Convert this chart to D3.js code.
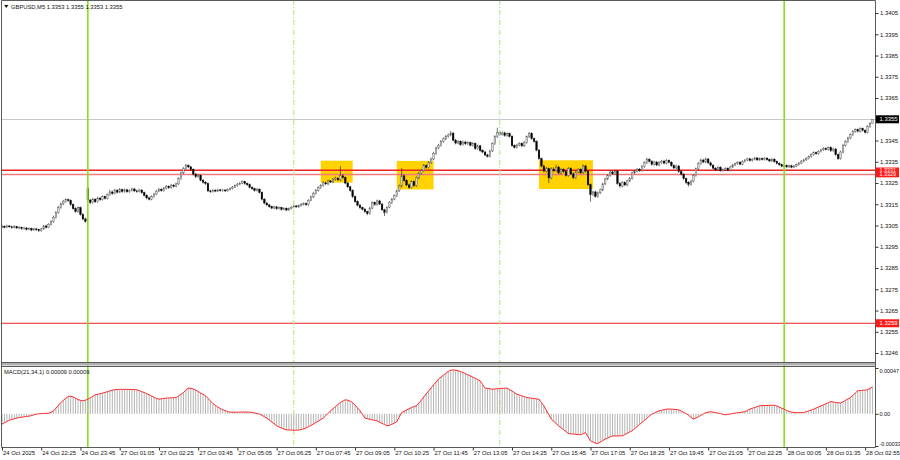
<!DOCTYPE html>
<html>
<head>
<meta charset="utf-8">
<script src="https://cdn.jsdelivr.net/npm/d3@7"></script>
<style>
body{margin:0;background:#fff;}
text{font-family:"Liberation Sans",Arial,sans-serif;}
</style>
</head>
<body>
<svg id="chart" width="900" height="460"></svg>
<script>
// GBPUSD M5 candles, values in pips above 1.3300
var base = 1.3300;
var opens = [4.4,4.6,4.2,4.8,4.4,4.0,4.5,3.9,4.1,3.6, 3.8,3.2,3.5,2.9,3.4,3.0,2.6,3.4,4.8,4.2,
5.6,6.8,8.9,11.0,13.5,15.2,16.4,17.2,16.8,14.9, 13.0,11.6,13.4,10.2,8.1,22.5,17.0,15.8,17.4,16.2,
17.9,17.2,18.6,17.8,19.5,20.8,20.1,21.6,20.7,21.9, 21.0,21.8,20.9,21.5,22.2,21.3,21.0,21.7,20.5,19.2,
18.0,17.4,18.6,19.8,21.2,22.0,21.4,22.6,23.4,22.8, 24.0,23.5,24.6,27.0,29.8,31.9,33.2,32.6,31.4,29.2,
28.0,28.6,26.3,25.4,24.8,21.3,21.0,21.6,21.2,21.8, 21.4,21.7,21.3,21.9,22.4,23.1,23.8,24.5,24.9,25.6,
24.8,24.2,23.0,22.3,21.5,22.1,20.6,17.4,15.6,14.7, 13.9,13.2,13.8,12.9,13.4,12.6,13.1,12.3,13.0,13.6,
14.2,13.8,14.4,14.9,15.3,14.8,16.9,18.5,20.2,21.6, 22.8,23.9,25.1,24.6,26.0,25.5,26.8,27.3,26.5,28.4,
27.6,25.0,23.2,21.5,18.6,16.3,14.6,13.4,12.7,11.5, 10.6,13.2,15.8,14.9,16.6,15.1,12.4,11.2,13.6,15.8,
17.4,19.0,21.3,23.6,28.4,26.2,24.1,22.9,25.6,23.8, 27.4,29.6,30.8,33.2,32.4,34.6,36.3,38.9,41.5,42.8,
44.6,45.8,46.9,47.6,48.5,45.2,43.8,44.6,43.1,44.3, 43.5,44.0,42.8,43.6,41.2,42.5,40.3,39.6,38.2,37.6,
40.1,43.5,46.8,48.7,47.9,48.6,47.4,48.2,47.0,42.6, 41.8,42.9,43.6,42.5,44.1,46.8,48.3,45.9,44.6,40.5,
36.5,33.0,30.6,31.8,27.4,31.6,30.8,32.5,29.7,31.3, 30.4,28.6,31.8,29.3,27.5,30.2,31.4,29.8,33.0,30.6,
24.2,19.5,20.8,18.7,20.4,21.8,24.6,26.9,28.5,30.2, 29.4,30.6,24.8,23.6,25.2,24.1,26.0,27.2,29.8,30.6,
31.5,30.9,32.8,34.6,36.1,35.2,33.8,34.9,33.5,34.6, 35.3,34.4,35.6,34.8,33.2,32.1,33.0,30.4,29.2,27.1,
25.3,24.4,25.9,28.6,31.7,34.2,35.8,34.9,36.3,34.5, 33.4,32.0,31.2,32.4,30.8,31.3,31.9,31.0,32.6,33.5,
34.1,34.8,33.9,35.2,35.8,36.4,35.6,36.2,36.8,35.9, 36.5,36.1,36.7,36.0,35.4,36.2,35.1,34.3,33.6,32.9,
33.2,32.6,33.1,32.5,33.0,33.6,34.4,35.3,35.9,36.6, 37.4,38.5,39.3,38.8,39.9,40.6,41.3,40.8,41.7,40.2,
41.0,38.4,36.5,39.6,42.8,44.5,46.2,47.8,49.3,50.1, 49.4,50.6,49.8,48.9,51.6,53.0];
var highs = [5.3,5.1,5.4,5.2,4.9,5.1,4.8,4.7,4.5,4.4, 4.3,4.1,4.0,3.9,3.9,3.5,3.9,5.3,5.4,6.1,
7.4,9.6,11.8,14.2,15.9,17.1,17.8,17.6,17.3,15.4, 13.6,14.0,13.9,10.8,8.7,23.0,17.6,18.0,17.9,18.5,
18.4,19.2,19.1,20.1,21.9,21.4,22.3,22.1,22.6,22.3, 22.4,22.3,22.0,22.8,22.7,21.9,22.3,22.2,21.0,19.7,
18.6,19.2,20.4,21.8,22.7,22.5,23.2,24.0,23.9,24.6, 24.5,25.2,27.6,30.4,32.5,34.0,33.8,33.1,31.9,29.8,
29.3,29.0,26.9,26.0,25.2,21.9,22.1,22.1,22.3,22.2, 22.2,22.1,22.4,22.9,23.6,24.3,25.0,25.5,26.2,26.0,
25.3,24.7,23.5,22.8,22.6,22.5,21.0,17.9,16.1,15.2, 14.3,14.3,14.2,13.9,13.8,13.6,13.5,13.5,14.1,14.8,
14.7,14.9,15.5,15.9,15.8,17.4,19.1,20.8,22.2,23.4, 24.5,25.8,25.6,26.6,26.4,27.4,28.0,27.9,33.0,29.2,
28.1,25.6,23.8,22.0,19.1,16.9,15.2,14.0,13.3,12.0, 13.8,16.4,16.3,17.2,17.1,15.6,12.9,14.1,16.4,18.0,
19.6,21.9,24.3,32.0,29.0,26.8,24.7,26.3,26.2,28.1, 30.3,31.5,33.9,33.8,35.3,37.0,39.6,42.1,43.4,45.3,
46.5,47.6,48.3,49.5,49.0,45.8,45.2,45.1,44.9,44.9, 44.6,44.5,44.2,44.1,43.1,43.0,40.9,40.2,38.8,40.7,
44.1,47.5,51.0,49.4,49.3,49.2,48.8,48.8,47.5,43.2, 43.5,44.2,44.1,44.7,47.4,49.0,48.9,46.4,45.1,41.0,
37.0,33.6,32.6,32.3,32.4,32.5,33.6,33.1,32.0,32.0, 31.0,32.5,32.4,29.9,30.8,32.0,32.0,33.8,33.6,31.2,
24.8,21.4,21.4,21.0,22.4,25.2,27.5,29.1,30.8,30.9, 31.2,31.2,25.4,25.8,25.8,26.6,27.8,30.4,31.2,32.1,
32.1,33.4,35.2,36.9,36.7,35.8,35.5,35.4,35.2,35.9, 35.9,36.2,36.1,35.3,33.7,33.6,33.5,30.9,29.7,27.6,
25.9,26.5,29.2,32.3,34.8,36.5,36.4,37.0,36.9,35.1, 33.9,32.5,32.9,32.9,31.8,32.4,32.4,33.1,34.0,34.6,
35.3,35.3,35.7,36.3,36.9,36.9,36.7,37.3,37.2,37.0, 37.0,37.2,37.2,36.5,36.7,36.7,35.6,34.8,34.1,33.7,
33.7,33.6,33.6,33.5,34.1,34.9,35.8,36.4,37.1,37.9, 39.0,39.9,39.8,40.4,41.1,41.9,41.8,42.2,42.2,41.6,
41.5,38.9,40.2,43.4,45.1,46.8,48.4,49.9,50.7,50.6, 51.2,51.1,50.3,52.2,53.6,55.0];
var lows = [3.8,3.7,3.9,3.9,3.5,3.6,3.3,3.4,3.0,3.1, 2.7,2.8,2.3,2.5,2.4,1.9,2.1,3.0,3.6,3.8,
5.1,6.2,8.3,10.5,12.9,14.6,15.8,16.1,14.2,12.4, 11.0,11.0,9.6,7.4,6.3,16.4,15.1,15.3,15.6,15.7,
16.6,16.8,17.2,17.3,19.0,19.5,19.7,20.1,20.2,20.4, 20.5,20.4,20.4,21.0,20.8,20.4,20.6,19.9,18.6,17.3,
16.8,16.9,18.1,19.3,20.7,20.9,20.9,22.0,22.2,22.3, 22.9,23.0,24.1,26.5,29.2,31.3,32.0,30.8,28.6,27.3,
27.5,25.8,24.8,24.1,20.7,20.4,20.5,20.7,20.7,20.9, 20.9,20.8,20.9,21.4,21.9,22.6,23.3,24.0,24.5,24.2,
23.6,22.5,21.8,20.9,21.0,20.0,16.8,14.9,14.1,13.3, 12.7,12.7,12.4,12.5,12.1,12.1,11.8,11.9,12.5,13.1,
13.2,13.3,13.9,14.4,14.2,14.3,16.4,17.9,19.6,21.0, 22.2,23.3,24.0,24.0,25.0,25.0,26.2,25.9,25.9,26.9,
24.4,22.6,20.9,18.0,15.7,14.0,12.8,12.1,10.9,9.8, 10.1,12.7,14.3,14.4,14.6,11.8,9.5,10.7,13.1,15.2,
16.9,18.4,20.8,23.0,25.6,23.5,22.3,22.4,23.2,23.2, 26.8,29.0,30.2,31.8,31.8,34.0,35.7,38.3,40.9,42.2,
44.0,45.2,46.3,47.0,44.6,43.2,43.2,42.5,42.6,42.9, 42.9,42.2,42.2,40.6,40.6,39.7,39.0,37.6,37.0,37.0,
39.6,42.9,46.2,47.3,47.3,46.8,46.8,46.4,42.0,41.2, 41.2,42.3,41.9,41.9,43.5,46.2,45.3,44.0,39.9,35.9,
32.4,30.0,30.0,25.0,26.8,30.1,30.2,29.1,29.1,29.8, 28.0,28.0,28.7,26.8,26.9,29.6,29.2,29.2,30.0,23.6,
16.2,18.9,18.1,18.1,19.8,21.2,24.0,26.3,27.9,28.8, 28.8,24.2,22.8,23.0,23.5,23.5,25.4,26.6,29.2,30.0,
30.3,30.3,32.2,34.0,34.6,33.2,33.2,32.9,32.9,34.0, 33.8,33.8,34.2,32.6,31.5,31.5,29.8,28.6,26.5,24.6,
23.4,23.8,25.3,28.0,31.1,33.6,34.3,34.3,33.9,32.8, 31.5,30.7,30.7,30.3,30.3,30.8,30.5,30.5,32.1,33.0,
33.6,33.4,33.4,34.7,35.3,35.1,35.1,35.7,35.4,35.4, 35.6,35.6,35.5,34.9,34.9,34.6,33.8,33.1,32.4,32.4,
32.1,32.1,32.0,32.0,32.5,33.1,33.9,34.8,35.4,36.1, 36.9,37.9,38.3,38.3,39.4,40.1,40.3,40.3,39.6,39.7,
37.8,35.8,36.0,39.0,42.2,43.9,45.6,47.2,48.7,48.8, 48.8,49.2,48.3,48.4,51.0,53.0];
var closes = [4.6,4.2,4.8,4.4,4.0,4.5,3.9,4.1,3.6,3.8, 3.2,3.5,2.9,3.4,3.0,2.6,3.4,4.8,4.2,5.6,
6.8,8.9,11.0,13.5,15.2,16.4,17.2,16.8,14.9,13.0, 11.6,13.4,10.2,8.1,7.0,17.0,15.8,17.4,16.2,17.9,
17.2,18.6,17.8,19.5,20.8,20.1,21.6,20.7,21.9,21.0, 21.8,20.9,21.5,22.2,21.3,21.0,21.7,20.5,19.2,18.0,
17.4,18.6,19.8,21.2,22.0,21.4,22.6,23.4,22.8,24.0, 23.5,24.6,27.0,29.8,31.9,33.2,32.6,31.4,29.2,28.0,
28.6,26.3,25.4,24.8,21.3,21.0,21.6,21.2,21.8,21.4, 21.7,21.3,21.9,22.4,23.1,23.8,24.5,24.9,25.6,24.8,
24.2,23.0,22.3,21.5,22.1,20.6,17.4,15.6,14.7,13.9, 13.2,13.8,12.9,13.4,12.6,13.1,12.3,13.0,13.6,14.2,
13.8,14.4,14.9,15.3,14.8,16.9,18.5,20.2,21.6,22.8, 23.9,25.1,24.6,26.0,25.5,26.8,27.3,26.5,28.4,27.6,
25.0,23.2,21.5,18.6,16.3,14.6,13.4,12.7,11.5,10.6, 13.2,15.8,14.9,16.6,15.1,12.4,11.2,13.6,15.8,17.4,
19.0,21.3,23.6,28.4,26.2,24.1,22.9,25.6,23.8,27.4, 29.6,30.8,33.2,32.4,34.6,36.3,38.9,41.5,42.8,44.6,
45.8,46.9,47.6,48.5,45.2,43.8,44.6,43.1,44.3,43.5, 44.0,42.8,43.6,41.2,42.5,40.3,39.6,38.2,37.6,40.1,
43.5,46.8,48.7,47.9,48.6,47.4,48.2,47.0,42.6,41.8, 42.9,43.6,42.5,44.1,46.8,48.3,45.9,44.6,40.5,36.5,
33.0,30.6,31.8,27.4,31.6,30.8,32.5,29.7,31.3,30.4, 28.6,31.8,29.3,27.5,30.2,31.4,29.8,33.0,30.6,24.2,
19.5,20.8,18.7,20.4,21.8,24.6,26.9,28.5,30.2,29.4, 30.6,24.8,23.6,25.2,24.1,26.0,27.2,29.8,30.6,31.5,
30.9,32.8,34.6,36.1,35.2,33.8,34.9,33.5,34.6,35.3, 34.4,35.6,34.8,33.2,32.1,33.0,30.4,29.2,27.1,25.3,
24.4,25.9,28.6,31.7,34.2,35.8,34.9,36.3,34.5,33.4, 32.0,31.2,32.4,30.8,31.3,31.9,31.0,32.6,33.5,34.1,
34.8,33.9,35.2,35.8,36.4,35.6,36.2,36.8,35.9,36.5, 36.1,36.7,36.0,35.4,36.2,35.1,34.3,33.6,32.9,33.2,
32.6,33.1,32.5,33.0,33.6,34.4,35.3,35.9,36.6,37.4, 38.5,39.3,38.8,39.9,40.6,41.3,40.8,41.7,40.2,41.0,
38.4,36.5,39.6,42.8,44.5,46.2,47.8,49.3,50.1,49.4, 50.6,49.8,48.9,51.6,53.0,55.0];

// MACD(21,34,1) main values, units of 0.00001
var macd = [-10.6,-9.2,-7.9,-6.5,-5.8,-5.1,-4.5,-3.8,-3.5,-3.1,
-2.7,-2.4,-1.8,-1.0,-0.3,0.0,0.2,0.4,0.5,0.7,
1.5,3.0,5.8,8.7,11.6,13.8,16.0,17.8,18.0,17.4,
16.0,14.7,13.8,13.3,14.0,15.0,16.5,18.0,19.5,20.0,
20.6,21.2,22.0,22.8,23.5,24.3,24.7,25.0,25.1,25.1,
25.1,25.0,25.0,24.9,24.8,24.6,23.8,22.8,21.8,20.8,
19.5,18.2,16.9,15.8,15.0,15.4,15.8,16.1,16.3,16.4,
16.5,16.7,18.2,20.0,21.8,24.2,26.4,26.2,25.4,24.3,
22.9,21.4,20.0,18.5,16.0,13.2,10.6,8.7,7.0,5.4,
4.3,3.2,2.3,1.7,1.6,1.6,1.7,1.8,1.8,1.8,
1.8,1.7,1.4,0.9,0.3,-0.3,-1.5,-3.0,-4.4,-6.4,
-8.4,-10.4,-12.3,-13.5,-14.6,-15.6,-16.4,-16.6,-16.7,-16.8,
-16.8,-16.7,-16.2,-15.4,-14.4,-13.3,-11.9,-10.4,-8.9,-7.4,
-5.9,-4.4,-1.9,0.6,3.1,5.2,7.4,9.5,11.6,13.0,
14.4,14.0,13.0,11.6,8.8,6.0,3.1,-0.6,-4.4,-5.0,
-5.6,-6.2,-6.7,-7.2,-8.5,-9.8,-11.0,-12.3,-11.8,-10.8,
-9.5,-8.2,-3.5,1.3,2.6,3.9,5.2,6.5,7.4,8.2,
11.0,14.0,17.2,20.4,23.6,26.6,29.6,32.6,35.6,37.6,
39.6,41.5,43.4,44.8,45.0,44.7,44.1,43.4,42.3,41.2,
40.1,39.0,37.7,36.4,35.1,33.8,30.1,26.4,26.0,25.6,
25.3,25.5,25.7,25.9,26.1,26.3,26.4,24.9,23.3,21.8,
20.2,19.3,18.4,17.6,16.7,16.4,16.0,15.7,15.3,15.0,
11.6,8.2,3.7,-0.9,-5.4,-7.7,-10.0,-12.3,-14.3,-16.2,
-18.2,-20.2,-20.5,-20.7,-21.0,-21.3,-21.5,-20.4,-19.2,-23.5,
-27.7,-28.9,-30.0,-30.5,-29.0,-27.5,-26.0,-24.9,-23.7,-22.6,
-22.6,-22.6,-22.6,-22.6,-21.3,-20.0,-18.7,-17.4,-15.3,-13.1,
-11.0,-8.9,-6.7,-4.6,-2.4,-0.3,0.8,2.0,3.1,3.7,
4.2,4.8,4.9,4.8,4.6,4.4,4.1,2.8,1.6,0.3,
-1.6,-3.5,-5.4,-4.2,-3.1,-1.6,-0.1,1.3,1.7,2.1,
1.8,1.3,0.8,0.3,-0.4,-1.0,-0.6,-0.2,0.3,0.7,
1.1,1.5,1.8,2.1,3.5,4.8,5.7,6.5,7.4,8.2,
8.4,8.5,8.6,8.7,8.8,8.9,8.0,6.9,5.8,4.6,
3.5,2.4,1.8,1.3,1.2,1.2,1.2,1.3,2.2,3.0,
3.9,4.8,5.9,7.0,8.1,9.2,10.3,11.5,12.6,12.1,
11.6,11.3,11.0,12.4,13.8,15.3,16.7,19.0,21.3,23.6,
23.9,24.1,24.4,24.6,26.1,27.7];

var timeLabels = ["24 Oct 2025","24 Oct 22:25","24 Oct 23:45","27 Oct 01:05","27 Oct 02:25","27 Oct 03:45",
"27 Oct 05:05","27 Oct 06:25","27 Oct 07:45","27 Oct 09:05","27 Oct 10:25","27 Oct 11:45","27 Oct 13:05",
"27 Oct 14:25","27 Oct 15:45","27 Oct 17:05","27 Oct 18:25","27 Oct 19:45","27 Oct 21:05","27 Oct 22:25",
"28 Oct 00:05","28 Oct 01:35","28 Oct 02:55"];
var priceTicks = [1.3405,1.3395,1.3385,1.3375,1.3365,1.3355,1.3345,1.3335,1.3325,1.3315,1.3305,1.3295,1.3285,1.3275,1.3265,1.3255,1.3245];
var priceTickLabels = ["1.3405","1.3395","1.3385","1.3375","1.3365","1.3355","1.3345","1.3335","1.3325","1.3315","1.3305","1.3295","1.3285","1.3275","1.3265","1.3255","1.3246"];
var macdTicks = [0.00047, 0, -0.00033];
var macdTickLabels = ["0.00047","0.00","-0.00033"];

var levels = [1.3331, 1.3329, 1.3259];
var lastPrice = 1.3355;
var boxStart = [130, 161, 219], boxEnd = [143, 176, 241];
var boxTop = [1.33355, 1.33354, 1.33357], boxBottom = [1.33252, 1.33220, 1.33222];
var daySeps = [35, 319], sessionSeps = [119, 203];

var svg = d3.select("#chart");
var mainTop = 1, mainBottom = 363, macdTop = 366, macdBottom = 447, plotRight = 875;
var n = closes.length;
var FONT = "Liberation Sans, Arial, sans-serif";

var x = d3.scaleLinear().domain([0, n - 1]).range([2, 2 + (n - 1) * 2.452]);
var y = d3.scaleLinear().domain([1.32403, 1.34102]).range([mainBottom, 2]);
var ym = d3.scaleLinear().domain([-0.00033, 0.00047]).range([446, 368]);
function px(v) { return base + v / 10000; }

svg.append("defs").append("clipPath").attr("id", "clipMain")
	.append("rect").attr("x", 2).attr("y", mainTop).attr("width", plotRight - 2).attr("height", mainBottom - mainTop);

var main = svg.append("g").attr("clip-path", "url(#clipMain)");

// yellow boxes
main.selectAll(".box").data(boxStart).enter().append("rect")
	.attr("x", function(d){ return x(d); })
	.attr("width", function(d, i){ return x(boxEnd[i]) - x(d); })
	.attr("y", function(d, i){ return y(boxTop[i]); })
	.attr("height", function(d, i){ return y(boxBottom[i]) - y(boxTop[i]); })
	.attr("fill", "#ffd200");

// current price line
main.append("line").attr("x1", 2).attr("x2", plotRight)
	.attr("y1", Math.round(y(lastPrice)) + 0.5).attr("y2", Math.round(y(lastPrice)) + 0.5)
	.attr("stroke", "#c8c8c8").attr("stroke-width", 1);

// levels
main.selectAll(".lvl").data(levels).enter().append("line")
	.attr("x1", 2).attr("x2", plotRight)
	.attr("y1", function(d){ return y(d); }).attr("y2", function(d){ return y(d); })
	.attr("stroke", function(d, i){ return i == 1 ? "#f47a7a" : "#ee2222"; })
	.attr("stroke-width", function(d, i){ return i == 0 ? 1.6 : (i == 1 ? 1.4 : 1); });

// candles
var idx = d3.range(n);
main.selectAll(".wick").data(idx).enter().append("line")
	.attr("x1", function(i){ return x(i); }).attr("x2", function(i){ return x(i); })
	.attr("y1", function(i){ return y(px(highs[i])); }).attr("y2", function(i){ return y(px(lows[i])); })
	.attr("stroke", "#111").attr("stroke-width", 0.6);
main.selectAll(".body").data(idx).enter().append("rect")
	.attr("x", function(i){ return x(i) - 0.8; })
	.attr("width", 1.6)
	.attr("y", function(i){ return y(px(Math.max(opens[i], closes[i]))); })
	.attr("height", function(i){ return Math.max(0.6, Math.abs(y(px(opens[i])) - y(px(closes[i])))); })
	.attr("fill", function(i){ return closes[i] >= opens[i] ? "#d8d8d8" : "#000"; })
	.attr("stroke", function(i){ return closes[i] >= opens[i] ? "#555" : "#000"; })
	.attr("stroke-width", 0.4);

// vertical separators
function vlines(list, color, w, dash) {
	svg.selectAll(null).data(list).enter().append("line")
		.attr("x1", function(d){ return x(d); }).attr("x2", function(d){ return x(d); })
		.attr("y1", 0).attr("y2", macdBottom)
		.attr("stroke", color).attr("stroke-width", w)
		.attr("stroke-dasharray", dash);
}
vlines(daySeps, "#84e01c", 1.6, null);
vlines(sessionSeps, "#b6ec88", 1.2, "5,2,1,2");

// macd panel
svg.append("defs").append("clipPath").attr("id", "clipMacd")
	.append("rect").attr("x", 2).attr("y", macdTop).attr("width", plotRight - 2).attr("height", macdBottom - macdTop);
var mg = svg.append("g").attr("clip-path", "url(#clipMacd)");
mg.selectAll(".hist").data(idx).enter().append("line")
	.attr("x1", function(i){ return x(i); }).attr("x2", function(i){ return x(i); })
	.attr("y1", ym(0)).attr("y2", function(i){ return ym(macd[i] / 100000); })
	.attr("stroke", "#b4b4b4").attr("stroke-width", 1);
mg.append("path").datum(idx)
	.attr("d", d3.line().x(function(i){ return x(i); }).y(function(i){ return ym(macd[i] / 100000); }))
	.attr("fill", "none").attr("stroke", "#ff2a2a").attr("stroke-width", 1);

// frames
svg.append("rect").attr("x", 1.5).attr("y", 362.5).attr("width", plotRight - 1.5).attr("height", 3)
	.attr("fill", "#b0b0b0");
svg.append("path")
	.attr("d", "M1.5,447.5V0.5H" + (plotRight + 0.5) + "V447.5H1.5M1.5,362.5H" + plotRight + "M1.5,366.5H" + plotRight)
	.attr("fill", "none").attr("stroke", "#5a5a5a").attr("stroke-width", 1);

// price axis
var ya = svg.append("g").attr("transform", "translate(" + (plotRight + 0.5) + ",0)")
	.call(d3.axisRight(y).tickValues(priceTicks).tickSize(3)
		.tickFormat(function(d, i){ return priceTickLabels[i]; }));
ya.select(".domain").remove();
ya.selectAll("text").attr("x", 4.5).attr("font-size", 5.9).attr("font-family", FONT).attr("fill", "#111");
ya.selectAll("line").attr("stroke", "#333");

var ma = svg.append("g").attr("transform", "translate(" + (plotRight + 0.5) + ",0)")
	.call(d3.axisRight(ym).tickValues(macdTicks).tickSize(3)
		.tickFormat(function(d, i){ return macdTickLabels[i]; }));
ma.select(".domain").remove();
ma.selectAll("text").attr("x", 4).attr("font-size", 5.4).attr("font-family", FONT).attr("fill", "#111")
	.attr("dy", function(d, i){ return i == 0 ? "0.9em" : (i == 2 ? "-0.1em" : "0.32em"); });
ma.selectAll("line").attr("stroke", "#333");

// price tags
function tag(price, color, h, fs) {
	var yy = y(price);
	svg.append("rect").attr("x", plotRight + 1).attr("y", yy - h / 2).attr("width", 23).attr("height", h).attr("fill", color);
	svg.append("text").attr("x", plotRight + 4.5).attr("y", yy).attr("dy", "0.35em")
		.attr("font-size", fs).attr("font-family", FONT).attr("fill", "#fff").text(price.toFixed(4));
}
tag(lastPrice, "#000", 8, 5.9);
tag(levels[0], "#ff1a1a", 5.6, 5.4);
tag(levels[1], "#ff1a1a", 5.6, 5.4);
tag(levels[2], "#ff1a1a", 8, 5.9);

// time axis
var tickIdx = timeLabels.map(function(d, i){ return i * 16; });
var xa = svg.append("g").attr("transform", "translate(0," + (macdBottom + 0.5) + ")")
	.call(d3.axisBottom(x).tickValues(tickIdx).tickSize(3)
		.tickFormat(function(d, i){ return timeLabels[i]; }));
xa.select(".domain").remove();
xa.selectAll("line").attr("stroke", "#333");
xa.selectAll("text").attr("text-anchor", "start").attr("x", 0.5).attr("y", 3).attr("dy", "0.75em")
	.attr("font-size", 5.9).attr("font-family", FONT).attr("fill", "#111");

// titles
svg.append("path").attr("d", "M4,5H8.5L6.25,8Z").attr("fill", "#222");
svg.append("text").attr("x", 11).attr("y", 9).attr("font-size", 5.8).attr("font-family", FONT).attr("fill", "#111")
	.text("GBPUSD,M5  1.3353 1.3355 1.3353 1.3355");
svg.append("text").attr("x", 4).attr("y", 374).attr("font-size", 5.8).attr("font-family", FONT).attr("fill", "#111")
	.text("MACD(21,34,1) 0.00009 0.00009");
</script>
</body>
</html>
